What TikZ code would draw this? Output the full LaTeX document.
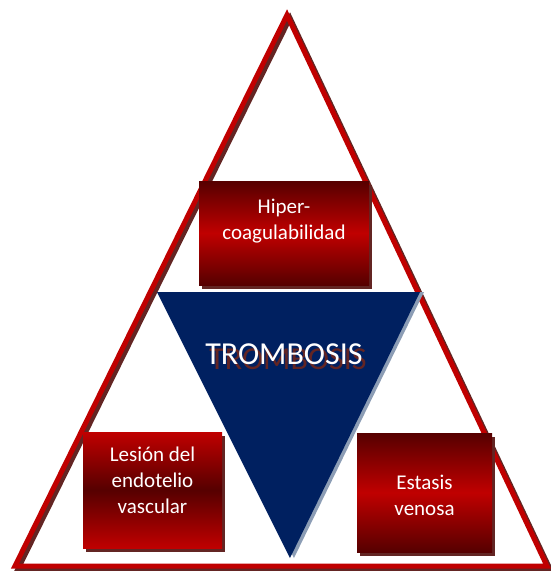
\documentclass[tikz,border=0pt]{standalone}
\usepackage{fontspec}
\setmainfont{Carlito}
\usetikzlibrary{positioning,shadows}
\definecolor{rojo}{HTML}{C00000}
\definecolor{rojoosc}{HTML}{560000}
\definecolor{sombra}{HTML}{632523}
\definecolor{marino}{HTML}{002060}
\definecolor{gris}{HTML}{8C9DB5}
\newcommand\consombra[1]{\makebox[0pt][l]{\hspace{4pt}\raisebox{-5pt}{\textcolor{sombra}{#1}}}#1}
\tikzset{
  caja/.style={inner sep=0pt,
    drop shadow={shadow xshift=3pt, shadow yshift=-4pt, fill=sombra, opacity=1}},
  oscura/.style={top color=rojoosc, bottom color=rojoosc, middle color=rojo},
  clara/.style={top color=rojo, bottom color=rojo, middle color=rojoosc},
  texto/.style={text=white, align=center, font=\fontsize{21}{26}\selectfont},
}
\begin{document}
\begin{tikzpicture}[x=1pt,y=-1pt]
	\useasboundingbox (0,0) rectangle (551,571);
	
	\coordinate (apice) at (287,15);
	\coordinate (izq) at (15,566);
	\coordinate (der) at (547,566);
	
	% triangulo exterior
	\draw[sombra, line width=5pt] ([shift={(3,3)}]apice) -- ([shift={(3,3)}]izq) -- ([shift={(3,3)}]der) -- cycle;
	\draw[rojo, line width=5pt] (apice) -- (izq) -- (der) -- cycle;
	
	% triangulo invertido
	\coordinate (ti) at (157,292);
	\coordinate (td) at (420,292);
	\coordinate (tb) at (290,558);
	\fill[gris] ([xshift=4pt]ti) -- ([xshift=4pt]td) -- ([xshift=4pt]tb) -- cycle;
	\fill[marino] (ti) -- (td) -- (tb) -- cycle;
	
	\node[caja, oscura, minimum width=170pt, minimum height=104pt] (hiper) at (284,233) {};
	\node[caja, clara, minimum width=139pt, minimum height=116pt] (lesion) at (152.5,490) {};
	\node[caja, oscura, minimum width=135pt, minimum height=119pt] (estasis) at (424.5,492.5) {};
	
	\node[texto, yshift=12pt] (thiper) at (hiper) {Hiper-\\coagulabilidad};
	\node[texto, yshift=10pt] (tlesion) at (lesion) {Lesión del\\endotelio\\vascular};
	\node[texto, yshift=-3pt] (testasis) at (estasis) {Estasis\\venosa};
	
	\node[text=white, font=\fontsize{32}{38}\selectfont] (tromb) at (284,357) {\consombra{TROMBOSIS}};
\end{tikzpicture}
\end{document}
